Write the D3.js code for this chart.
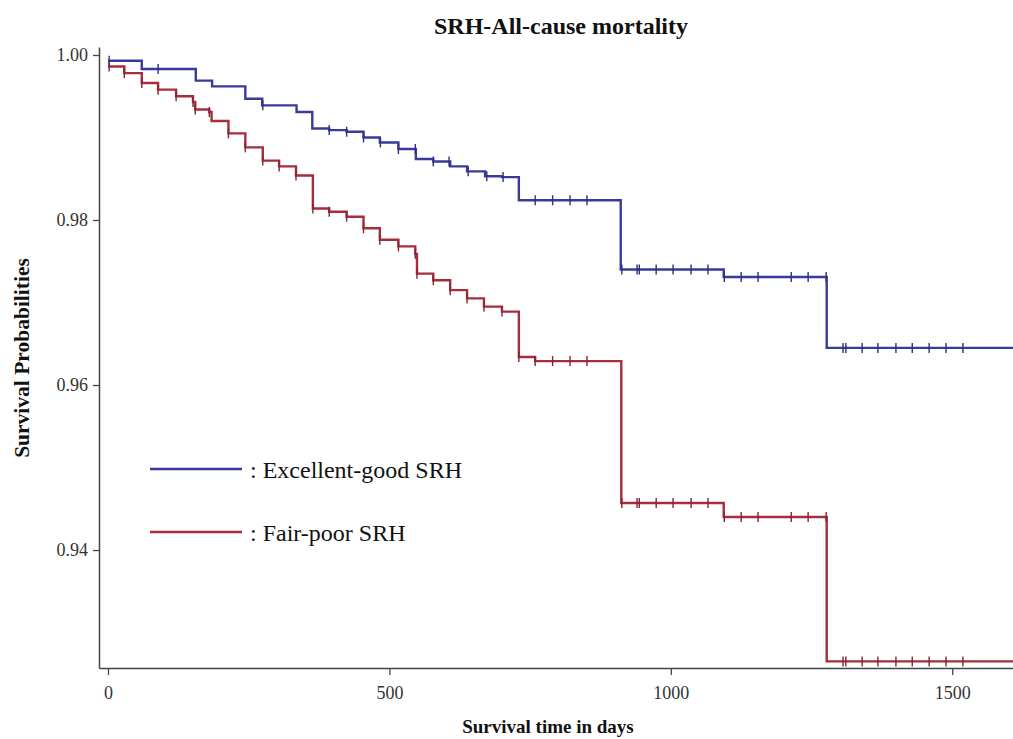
<!DOCTYPE html>
<html>
<head>
<meta charset="utf-8">
<script src="https://cdn.jsdelivr.net/npm/d3@7"></script>
<style>
  body { margin: 0; background: #fff; }
  svg text { font-family: "Liberation Serif", "Times New Roman", serif; }
</style>
</head>
<body>
<div id="chart"></div>
<script>
// Kaplan-Meier steps (days, survival)
var goodTimes = [0, 60, 156, 185, 244, 274, 335, 363, 393, 424, 454, 483, 516, 547, 578, 608, 638, 670, 700, 730, 911, 1094, 1277];
var goodSurv  = [0.9993, 0.9983, 0.9969, 0.9962, 0.9947, 0.9939, 0.9931, 0.9911, 0.9909, 0.9907, 0.9900, 0.9894, 0.9886, 0.9874, 0.9871, 0.9865, 0.9859, 0.9853, 0.9852, 0.9824, 0.9740, 0.9731, 0.9645];
var goodCensor = [2, 89, 275, 393, 424, 454, 484, 516, 546, 578, 606, 640, 673, 702, 759, 790, 821, 851, 913, 940, 944, 974, 1004, 1036, 1066, 1095, 1125, 1155, 1214, 1244, 1276, 1306, 1311, 1340, 1368, 1400, 1429, 1459, 1489, 1519];

var poorTimes = [0, 29, 60, 89, 121, 151, 155, 180, 184, 214, 244, 275, 304, 334, 364, 393, 424, 454, 483, 516, 546, 549, 578, 608, 638, 668, 700, 730, 759, 912, 1094, 1277];
var poorSurv  = [0.9986, 0.9978, 0.9966, 0.9958, 0.9950, 0.9943, 0.9934, 0.9931, 0.9920, 0.9905, 0.9888, 0.9872, 0.9865, 0.9854, 0.9814, 0.9810, 0.9804, 0.9790, 0.9776, 0.9768, 0.9759, 0.9735, 0.9727, 0.9715, 0.9705, 0.9695, 0.9689, 0.9634, 0.9629, 0.9457, 0.9440, 0.9265];
var poorCensor = [2, 29, 60, 89, 121, 151, 155, 180, 214, 244, 275, 304, 334, 364, 393, 424, 454, 483, 516, 546, 549, 578, 608, 638, 668, 700, 730, 759, 790, 821, 851, 913, 940, 944, 974, 1004, 1036, 1066, 1095, 1125, 1155, 1214, 1244, 1276, 1306, 1311, 1340, 1368, 1400, 1429, 1459, 1489, 1519];

var lastFollowUp = 1640;

var xTicks = [0, 500, 1000, 1500];
var yTicks = [0.94, 0.96, 0.98, 1.00];

var groupNames = [": Excellent-good SRH", ": Fair-poor SRH"];
var groupColours = ["#3a3a9c", "#a52d3c"];

// set the dimensions and margins of the graph
var margin = {top: 47, right: 0, bottom: 71, left: 99},
    width = 1013 - margin.left - margin.right,
    height = 739 - margin.top - margin.bottom;

var svg = d3.select("#chart")
    .append("svg")
    .attr("width", width + margin.left + margin.right)
    .attr("height", height + margin.top + margin.bottom);

var g = svg.append("g")
    .attr("transform", "translate(" + margin.left + "," + margin.top + ")");

var x = d3.scaleLinear().domain([-16, 1608]).range([0, width]);
var y = d3.scaleLinear().domain([0.9257, 1.00097]).range([height, 0]);

g.append("clipPath").attr("id", "clip")
    .append("rect").attr("x", 0).attr("y", -10).attr("width", width).attr("height", height + 20);

// axes
var yAxis = g.append("g")
    .call(d3.axisLeft(y).tickValues(yTicks).tickFormat(d3.format(".2f")).tickSize(6).tickSizeOuter(0).tickPadding(5));
var xAxis = g.append("g")
    .attr("transform", "translate(0," + height + ")")
    .call(d3.axisBottom(x).tickValues(xTicks).tickFormat(d3.format("d")).tickSize(7).tickSizeOuter(0).tickPadding(11));

[xAxis, yAxis].forEach(function(a) {
    a.select(".domain").attr("stroke", "#444").attr("stroke-width", 1.5);
    a.selectAll(".tick line").attr("stroke", "#444").attr("stroke-width", 1.3);
    a.selectAll(".tick text")
        .attr("fill", "#333")
        .style("font-size", "18px")
        .style("font-family", "'Liberation Serif', 'Times New Roman', serif");
});

// survival curves
function buildSteps(times, surv) {
    var pts = times.map(function(t, i) { return [t, surv[i]]; });
    pts.push([lastFollowUp, surv[surv.length - 1]]);
    return pts;
}

function survAt(times, surv, t) {
    var i = d3.bisectRight(times, t) - 1;
    return surv[Math.max(i, 0)];
}

var line = d3.line()
    .x(function(d) { return x(d[0]); })
    .y(function(d) { return y(d[1]); })
    .curve(d3.curveStepAfter);

var groups = [
    {times: goodTimes, surv: goodSurv, censor: goodCensor},
    {times: poorTimes, surv: poorSurv, censor: poorCensor}
];

var curves = g.append("g").attr("clip-path", "url(#clip)");

groups.forEach(function(grp, k) {
    curves.append("path")
        .datum(buildSteps(grp.times, grp.surv))
        .attr("d", line)
        .attr("fill", "none")
        .attr("stroke", groupColours[k])
        .attr("stroke-width", 2.4);

    curves.selectAll(".cens" + k)
        .data(grp.censor)
        .enter()
        .append("line")
        .attr("x1", function(d) { return x(d); })
        .attr("x2", function(d) { return x(d); })
        .attr("y1", function(d) { return y(survAt(grp.times, grp.surv, d)) - 5; })
        .attr("y2", function(d) { return y(survAt(grp.times, grp.surv, d)) + 5; })
        .attr("stroke", d3.color(groupColours[k]).darker(0.6))
        .attr("stroke-width", 1.4);
});

// legend
var legend = g.append("g");
groupNames.forEach(function(name, k) {
    var ly = 422 + k * 63;
    legend.append("line")
        .attr("x1", 51).attr("x2", 143)
        .attr("y1", ly).attr("y2", ly)
        .attr("stroke", groupColours[k])
        .attr("stroke-width", 2.4);
    legend.append("text")
        .attr("x", 151)
        .attr("y", ly + 9)
        .style("font-size", "24px")
        .attr("fill", "#111")
        .text(name);
});

// titles
svg.append("text")
    .attr("x", 561).attr("y", 34)
    .attr("text-anchor", "middle")
    .style("font-size", "24px")
    .style("font-weight", "bold")
    .attr("fill", "#111")
    .text("SRH-All-cause mortality");

svg.append("text")
    .attr("x", 548).attr("y", 733)
    .attr("text-anchor", "middle")
    .style("font-size", "19px")
    .style("font-weight", "bold")
    .attr("fill", "#111")
    .text("Survival time in days");

svg.append("text")
    .attr("transform", "translate(29,358) rotate(-90)")
    .attr("text-anchor", "middle")
    .style("font-size", "21.5px")
    .style("font-weight", "bold")
    .attr("fill", "#111")
    .text("Survival Probabilities");
</script>
</body>
</html>
